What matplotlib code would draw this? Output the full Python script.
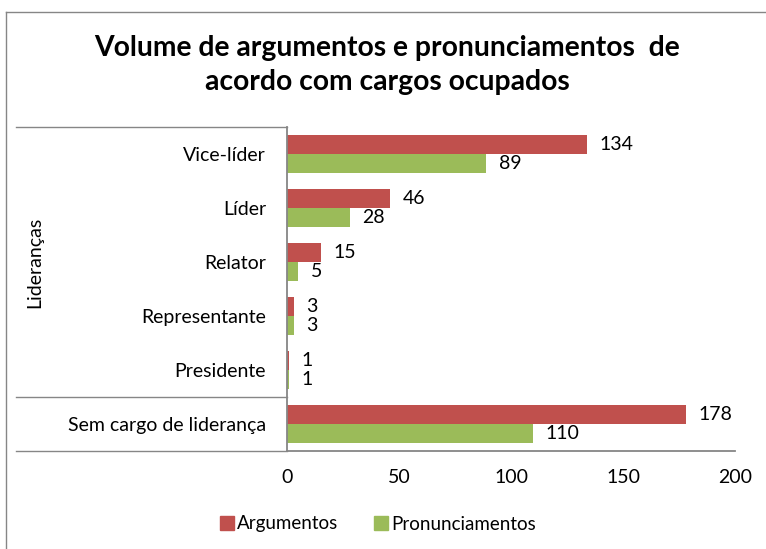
import matplotlib
matplotlib.use("Agg")
import matplotlib.pyplot as plt
from matplotlib.lines import Line2D
from matplotlib.patches import Patch

categories = ["Vice-líder", "Líder", "Relator", "Representante", "Presidente", "Sem cargo de liderança"]
argumentos = [134, 46, 15, 3, 1, 178]
pronunciamentos = [89, 28, 5, 3, 1, 110]
group_label = "Lideranças"
series_names = ["Argumentos", "Pronunciamentos"]
xticks = [0, 50, 100, 150, 200]
title = "Volume de argumentos e pronunciamentos  de\nacordo com cargos ocupados"

RED = "#C0504D"
GREEN = "#9BBB59"
GRAY = "#868686"

plt.rcParams['font.family'] = ['Lato', 'DejaVu Sans']

W, H = 766, 549
fig = plt.figure(figsize=(W / 100, H / 100), dpi=100)

def fx(x):
    return x / W

def fy(y):
    return 1 - y / H

ax_l, ax_r, ax_t, ax_b = 287, 735, 127, 451
ax = fig.add_axes([fx(ax_l), fy(ax_b), fx(ax_r) - fx(ax_l), fy(ax_t) - fy(ax_b)])

n = len(categories)
ypos = list(range(n))
bw = 0.357
ax.barh([y - bw / 2 for y in ypos], argumentos, height=bw, color=RED, label=series_names[0])
ax.barh([y + bw / 2 for y in ypos], pronunciamentos, height=bw, color=GREEN, label=series_names[1])

for y, v in zip(ypos, argumentos):
    ax.annotate(str(v), (v, y - bw / 2), xytext=(9, 0), textcoords="offset points",
                va="center", ha="left", fontsize=14, color="black")
for y, v in zip(ypos, pronunciamentos):
    ax.annotate(str(v), (v, y + bw / 2), xytext=(9, 0), textcoords="offset points",
                va="center", ha="left", fontsize=14, color="black")

ax.set_xlim(0, 200)
ax.set_ylim(n - 0.5, -0.5)
ax.set_xticks(xticks)
ax.set_xticklabels([str(t) for t in xticks], fontsize=14)
ax.set_yticks(ypos)
ax.set_yticklabels(categories, fontsize=14)
ax.tick_params(axis="y", length=0, pad=15)
ax.tick_params(axis="x", length=0, pad=13)
for s in ["top", "right"]:
    ax.spines[s].set_visible(False)
for s in ["left", "bottom"]:
    ax.spines[s].set_color(GRAY)
    ax.spines[s].set_linewidth(1.3)

# multi-level category lines
for yy in [127, 397, 451]:
    fig.add_artist(Line2D([fx(16), fx(287)], [fy(yy), fy(yy)], color=GRAY, lw=1.0))
fig.text(fx(35), fy(262), group_label, rotation=90, ha="center", va="center", fontsize=14)

# chart border
fig.add_artist(Line2D([fx(6), fx(766)], [fy(12), fy(12)], color=GRAY, lw=1.0))
fig.add_artist(Line2D([fx(6), fx(6)], [fy(12), fy(549)], color=GRAY, lw=1.0))

fig.text(fx(387), fy(65), title, ha="center", va="center", fontsize=20.3,
         fontweight="bold", linespacing=1.38)

handles = [Patch(color=RED), Patch(color=GREEN)]
fig.legend(handles, series_names, loc="center", bbox_to_anchor=(fx(378), fy(524)),
           ncol=2, frameon=False, fontsize=13.5, handlelength=0.75, handleheight=0.75,
           handletextpad=0.15, columnspacing=1.9)

fig.savefig("out.png", dpi=100)
